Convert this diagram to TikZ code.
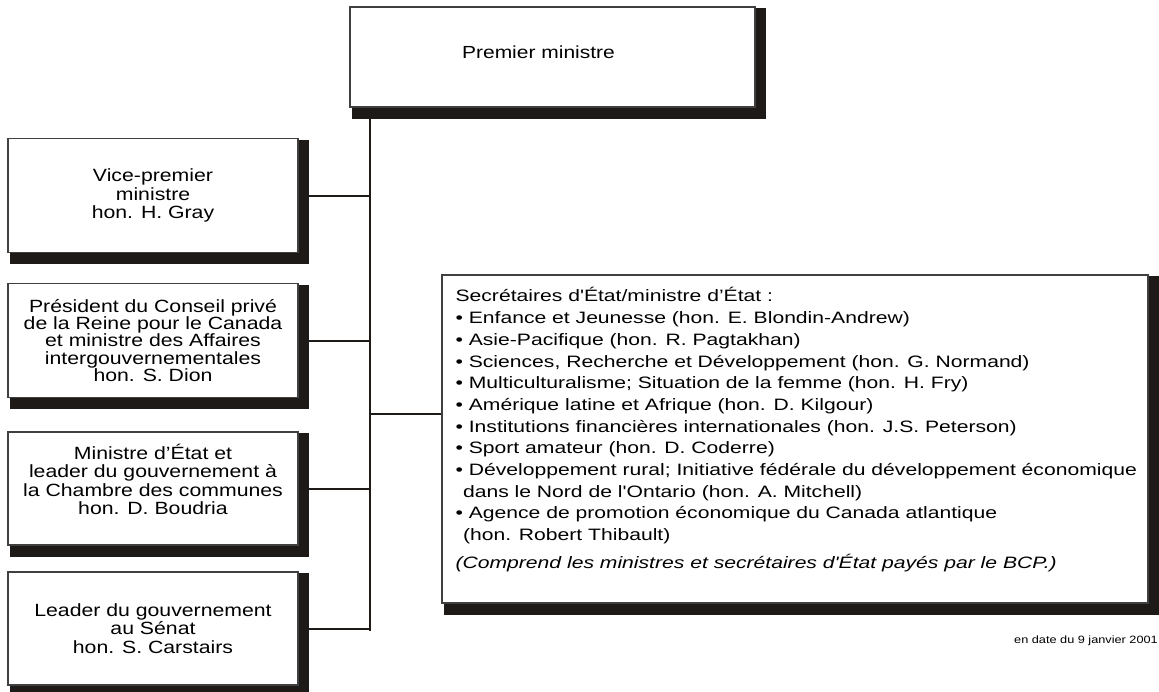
\documentclass[tikz,border=0pt]{standalone}
\usepackage{fontspec}
\setmainfont{Liberation Sans}[FakeStretch=1.2]
\newfontfamily\listfont{Liberation Sans}[FakeStretch=1.28]
\usetikzlibrary{backgrounds}
\definecolor{shadowcol}{RGB}{30,26,23}

\begin{document}
\begin{tikzpicture}[x=1pt,y=-1pt,
  office/.style={draw=black!75,line width=1.2pt,fill=white,align=center,inner sep=0pt,
    minimum width=290pt,minimum height=114pt,font=\fontsize{17.7}{18.5}\selectfont},
  link/.style={line width=2pt,draw=shadowcol}]

  \useasboundingbox (0,0) rectangle (1159,691);

  \node[office,minimum width=405pt,minimum height=100pt,text depth=10pt,
    font=\fontsize{17.5}{20}\selectfont] (pm) at (552.5,57) {Premier ministre\hspace*{28pt}};

  \node[office] (vp) at (153,195.5) {Vice-premier\\ministre\\hon. H. Gray};
  \node[office,font=\fontsize{17.7}{17.3}\selectfont] (pc) at (153,340.5) {Président du Conseil privé\\de la Reine pour le Canada\\
    et ministre des Affaires\\intergouvernementales\\hon. S. Dion};
  \node[office,minimum height=113pt,text depth=18pt] (le) at (153,488.5) {Ministre d'État et\\
    leader du gouvernement à\\la Chambre des communes\\hon. D. Boudria};
  \node[office,minimum height=113pt] (ls) at (153,628.5) {Leader du gouvernement\\
    au Sénat\\hon. S. Carstairs};

  \node[office,minimum width=706pt,minimum height=328pt] (sec) at (795,439) {};
  \node[anchor=north west,align=left,inner sep=0pt,
    font=\listfont\fontsize{16.5}{21.7}\selectfont] (list) at ([shift={(14,13)}]sec.north west) {%
    Secrétaires d'État/ministre d’État :\\
    • Enfance et Jeunesse (hon. E. Blondin-Andrew)\\
    • Asie-Pacifique (hon. R. Pagtakhan)\\
    • Sciences, Recherche et Développement (hon. G. Normand)\\
    • Multiculturalisme; Situation de la femme (hon. H. Fry)\\
    • Amérique latine et Afrique (hon. D. Kilgour)\\
    • Institutions financières internationales (hon. J.S. Peterson)\\
    • Sport amateur (hon. D. Coderre)\\
    • Développement rural; Initiative fédérale du développement économique\\
    \hspace*{0.45em}dans le Nord de l'Ontario (hon. A. Mitchell)\\
    • Agence de promotion économique du Canada atlantique\\
    \hspace*{0.45em}(hon. Robert Thibault)\\[6pt]
    \itshape (Comprend les ministres et secrétaires d'État payés par le BCP.)};

  \node[anchor=east,inner sep=0pt,font=\fontsize{10.6}{12}\selectfont] (date)
    at (1158,641) {en date du 9 janvier 2001};

  % shadows
  \begin{scope}[on background layer]
    \foreach \n in {pm,vp,pc,le,ls,sec}
      \fill[shadowcol] ([shift={(3,2)}]\n.north west) rectangle ([shift={(10,11)}]\n.south east);
  \end{scope}

  % connectors
  \coordinate (spine) at (370,0);
  \coordinate (jn) at (370,414);
  \draw[link] (pm.south -| spine) -- ([yshift=-2.5pt]ls.east -| spine);
  \foreach \n in {vp,pc,le,ls}
    \draw[link] (\n.east) -- (\n.east -| spine);
  \draw[link] (jn) -- (jn -| sec.west);
\end{tikzpicture}
\end{document}
